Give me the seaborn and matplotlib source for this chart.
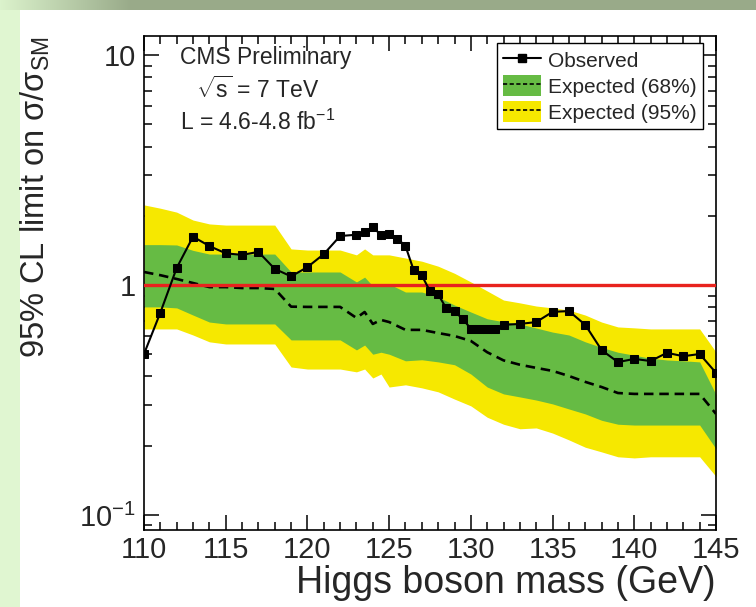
import numpy as np
import pandas as pd
import matplotlib
matplotlib.use("Agg")
import matplotlib.pyplot as plt
import seaborn as sns
from matplotlib.patches import Patch
from matplotlib.lines import Line2D
from matplotlib.ticker import MultipleLocator, FixedLocator, LogLocator, NullFormatter

# ---------------- data ----------------
mass_obs = [110, 111, 112, 113, 114, 115, 116, 117, 118, 119, 120, 121, 122,
            123, 123.5, 124, 124.5, 125, 125.5, 126, 126.5, 127, 127.5, 128,
            128.5, 129, 129.5, 130, 130.5, 131, 131.5, 132, 133, 134, 135,
            136, 137, 138, 139, 140, 141, 142, 143, 144, 145]
obs_limit = [0.501, 0.758, 1.186, 1.622, 1.477, 1.373, 1.352, 1.393, 1.175,
             1.090, 1.196, 1.362, 1.633, 1.654, 1.706, 1.78, 1.654, 1.664,
             1.591, 1.477, 1.160, 1.100, 0.94, 0.91, 0.791, 0.77, 0.711,
             0.646, 0.642, 0.642, 0.646, 0.671, 0.677, 0.69, 0.764, 0.77,
             0.671, 0.521, 0.462, 0.477, 0.467, 0.507, 0.49, 0.501, 0.415]

mass_exp = [110, 111, 112, 113, 114, 115, 116, 117, 118, 119, 120, 121, 122,
            123, 123.5, 124, 124.5, 125, 126, 127, 128, 129, 130, 131, 132,
            133, 134, 135, 136, 137, 138, 139, 140, 141, 142, 143, 144, 145]
exp_median = [1.139, 1.103, 1.062, 1.02, 0.979, 0.979, 0.97, 0.97, 0.961,
              0.805, 0.803, 0.803, 0.803, 0.719, 0.763, 0.677, 0.705, 0.69,
              0.638, 0.638, 0.618, 0.60, 0.571, 0.51, 0.47, 0.45, 0.436,
              0.423, 0.402, 0.379, 0.36, 0.339, 0.336, 0.336, 0.336, 0.336,
              0.336, 0.275]
exp_68_hi = [1.498, 1.498, 1.493, 1.414, 1.363, 1.363, 1.363, 1.363, 1.363,
             1.139, 1.139, 1.139, 1.139, 1.031, 1.082, 0.99, 1.0, 1.01,
             0.932, 0.932, 0.887, 0.818, 0.763, 0.713, 0.692, 0.677, 0.65,
             0.624, 0.606, 0.566, 0.535, 0.51, 0.495, 0.48, 0.472, 0.468,
             0.463, 0.334]
exp_68_lo = [0.803, 0.803, 0.795, 0.74, 0.69, 0.677, 0.677, 0.677, 0.677,
             0.577, 0.577, 0.577, 0.577, 0.522, 0.548, 0.50, 0.51, 0.50,
             0.468, 0.473, 0.463, 0.45, 0.41, 0.36, 0.336, 0.326, 0.316,
             0.304, 0.289, 0.275, 0.258, 0.248, 0.246, 0.246, 0.246, 0.246,
             0.246, 0.194]
exp_95_hi = [2.23, 2.157, 2.074, 1.916, 1.843, 1.822, 1.822, 1.822, 1.822,
             1.435, 1.419, 1.419, 1.419, 1.352, 1.435, 1.352, 1.352, 1.352,
             1.31, 1.269, 1.207, 1.124, 1.031, 0.942, 0.86, 0.836, 0.81,
             0.795, 0.778, 0.74, 0.69, 0.657, 0.651, 0.644, 0.644, 0.644,
             0.644, 0.511]
exp_95_lo = [0.644, 0.644, 0.644, 0.606, 0.566, 0.554, 0.554, 0.554, 0.554,
             0.44, 0.431, 0.431, 0.431, 0.419, 0.431, 0.394, 0.41, 0.36,
             0.368, 0.357, 0.343, 0.319, 0.298, 0.266, 0.248, 0.237, 0.239,
             0.227, 0.212, 0.197, 0.188, 0.179, 0.177, 0.179, 0.179, 0.179,
             0.179, 0.147]

sm_reference = 1.0
x_ticks = [110, 115, 120, 125, 130, 135, 140, 145]
y_ticks = [0.1, 1, 10]
y_tick_labels = [r"$10^{-1}$", "1", "10"]
legend_labels = ["Observed", "Expected (68%)", "Expected (95%)"]
info_lines = ["CMS Preliminary", r"$\sqrt{\mathrm{s}}$ = 7 TeV",
              r"L = 4.6-4.8 fb$^{\mathrm{-1}}$"]

# ---------------- style ----------------
sns.set_style("ticks")
plt.rcParams["font.family"] = ["Liberation Sans", "DejaVu Sans"]
plt.rcParams["mathtext.fontset"] = "custom"
plt.rcParams["mathtext.rm"] = "Liberation Sans"
plt.rcParams["mathtext.it"] = "Liberation Sans:italic"
plt.rcParams["mathtext.default"] = "regular"

GREEN = "#66bb44"
YELLOW = "#f6e800"
RED = "#e8231e"

W, H = 756, 607
fig = plt.figure(figsize=(W / 100, H / 100), dpi=100)

# slide-like background decoration
bgimg = np.ones((H, W, 3))
bgimg[10:, :20] = (0.88, 0.965, 0.82)
t = np.clip(np.arange(W) / 130.0, 0, 1)[None, :, None]
c0 = np.array([0.86, 0.95, 0.80])[None, None, :]
c1 = np.array([0.60, 0.67, 0.54])[None, None, :]
bgimg[:10, :] = c0 * (1 - t) + c1 * t
bg = fig.add_axes([0, 0, 1, 1])
bg.imshow(bgimg, aspect="auto", interpolation="bilinear")
bg.axis("off")
bg.set_zorder(0)

ax = fig.add_axes([144 / W, 1 - 530 / H, 572 / W, 494 / H])
ax.set_zorder(1)
ax.set_facecolor("white")
ax.set_yscale("log")

ax.fill_between(mass_exp, exp_95_lo, exp_95_hi, color=YELLOW, lw=0, zorder=1)
ax.fill_between(mass_exp, exp_68_lo, exp_68_hi, color=GREEN, lw=0, zorder=2)

df_exp = pd.DataFrame({"mass": mass_exp, "limit": exp_median})
sns.lineplot(data=df_exp, x="mass", y="limit", ax=ax, color="black",
             lw=1.9, linestyle=(0, (3.6, 2.2)), zorder=3)

ax.axhline(sm_reference, color=RED, lw=2.4, zorder=4)

df_obs = pd.DataFrame({"mass": mass_obs, "limit": obs_limit})
sns.lineplot(data=df_obs, x="mass", y="limit", ax=ax, color="black",
             lw=1.5, marker="s", markersize=6, markeredgecolor="black",
             zorder=5)

ax.set_xlim(110, 145)
ax.set_ylim(0.086, 12.1)
ax.xaxis.set_major_locator(FixedLocator(x_ticks))
ax.xaxis.set_minor_locator(MultipleLocator(1))
ax.yaxis.set_major_locator(FixedLocator(y_ticks))
ax.set_yticklabels(y_tick_labels)
ax.yaxis.set_minor_locator(LogLocator(base=10, subs=range(2, 10)))
ax.yaxis.set_minor_formatter(NullFormatter())

ax.tick_params(which="both", direction="in", top=True, right=True,
               color="black", width=1.1)
ax.tick_params(which="major", length=11, labelsize=21, pad=6)
ax.tick_params(axis="x", which="major", pad=4)
ax.tick_params(which="minor", length=6)
for s in ax.spines.values():
    s.set_linewidth(1.2)
    s.set_color("black")

ax.set_xlabel("Higgs boson mass (GeV)", fontsize=27, loc="right")
ax.xaxis.set_label_coords(1.0, -0.071)
ax.xaxis.label.set_va("top")
ax.set_ylabel(r"95% CL limit on $σ/σ_{\mathrm{SM}}$", fontsize=23.5, loc="top")
ax.yaxis.set_label_coords(-0.16, 1.0)

for txt, (tx, ty) in zip(info_lines, [(0.213, 0.957), (0.198, 0.891), (0.198, 0.826)]):
    ax.text(tx, ty, txt, transform=ax.transAxes, ha="center", va="center",
            fontsize=16.5, zorder=6)

handles = [
    Line2D([], [], color="black", lw=1.5, marker="s", markersize=6),
    (Patch(facecolor=GREEN, edgecolor="none"),
     Line2D([], [], color="black", lw=1.2, linestyle=(0, (2.5, 1.5)))),
    (Patch(facecolor=YELLOW, edgecolor="none"),
     Line2D([], [], color="black", lw=1.2, linestyle=(0, (2.5, 1.5)))),
]
leg = ax.legend(handles, legend_labels, loc="upper right",
                bbox_to_anchor=(0.977, 0.986), fontsize=15, frameon=True,
                fancybox=False, framealpha=1, edgecolor="black",
                handlelength=1.8, handleheight=1.2, labelspacing=0.2,
                handletextpad=0.35, borderpad=0.3, borderaxespad=0)
leg.get_frame().set_linewidth(1.0)
leg.set_zorder(7)

fig.savefig("out.png", dpi=100)
